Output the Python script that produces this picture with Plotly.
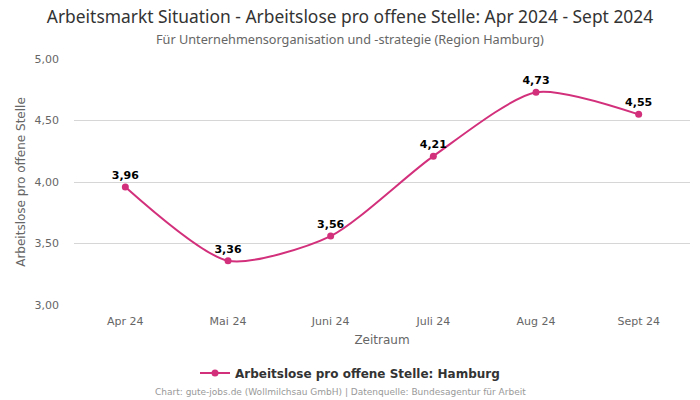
import plotly.graph_objects as go

months = ["Apr 24", "Mai 24", "Juni 24", "Juli 24", "Aug 24", "Sept 24"]
values = [3.96, 3.36, 3.56, 4.21, 4.73, 4.55]
labels = ["3,96", "3,36", "3,56", "4,21", "4,73", "4,55"]
y_ticks = [3.0, 3.5, 4.0, 4.5, 5.0]
y_tick_labels = ["3,00", "3,50", "4,00", "4,50", "5,00"]

color = "#d3307c"

fig = go.Figure()
fig.add_trace(go.Scatter(
    x=months, y=values, mode="lines+markers+text",
    line=dict(color=color, width=2, shape="spline", smoothing=0.7),
    marker=dict(color=color, size=7),
    text=labels, textposition="top center",
    textfont=dict(family="DejaVu Sans", size=11, color="#000000", weight="bold"),
    name="Arbeitslose pro offene Stelle: Hamburg",
    cliponaxis=False,
))

fig.update_layout(
    width=700, height=400,
    margin=dict(l=74, r=10, t=59, b=95),
    paper_bgcolor="white", plot_bgcolor="white",
    title=dict(
        text="Arbeitsmarkt Situation - Arbeitslose pro offene Stelle: Apr 2024 - Sept 2024",
        x=0.5, xanchor="center", y=0.958, yanchor="middle",
        font=dict(family="Noto Sans", size=17.4, color="#333333"),
    ),
    showlegend=True,
    legend=dict(
        orientation="h", xref="container", x=0.5, xanchor="center",
        yref="container", y=0.0675, yanchor="middle",
        font=dict(family="DejaVu Sans", size=12, color="#333333", weight="bold"),
    ),
    xaxis=dict(
        type="category", range=[-0.5, 5.5], automargin=False,
        showgrid=False, showline=False, ticks="",
        tickfont=dict(family="DejaVu Sans", size=11, color="#666666"),
        ticklabelstandoff=8,
        title=dict(text="Zeitraum", font=dict(family="DejaVu Sans", size=12, color="#666666"), standoff=8),
    ),
    yaxis=dict(
        range=[3.0, 5.0], tickvals=y_ticks, ticktext=y_tick_labels, automargin=False,
        showgrid=True, gridcolor="#d6d6d6", gridwidth=1, zeroline=False,
        tickfont=dict(family="DejaVu Sans", size=11, color="#666666"),
        ticklabelstandoff=14,
        title=dict(text="Arbeitslose pro offene Stelle", font=dict(family="DejaVu Sans", size=12, color="#666666"), standoff=6),
    ),
    annotations=[
        dict(text="Für Unternehmensorganisation und -strategie (Region Hamburg)",
             xref="paper", yref="paper", x=0.5, y=1.0, yshift=20, xshift=-32,
             xanchor="center", yanchor="middle",
             showarrow=False, font=dict(family="Noto Sans", size=12.7, color="#666666")),
        dict(text="Chart: gute-jobs.de (Wollmilchsau GmbH) | Datenquelle: Bundesagentur für Arbeit",
             xref="paper", yref="paper", x=0.5, y=-0.355, xshift=-42,
             xanchor="center", yanchor="middle",
             showarrow=False, font=dict(family="DejaVu Sans", size=9, color="#999999")),
    ],
)

fig.write_html("out.html", config={"displayModeBar": False},
               post_script="document.body.style.margin='0';document.body.style.padding='0';")
